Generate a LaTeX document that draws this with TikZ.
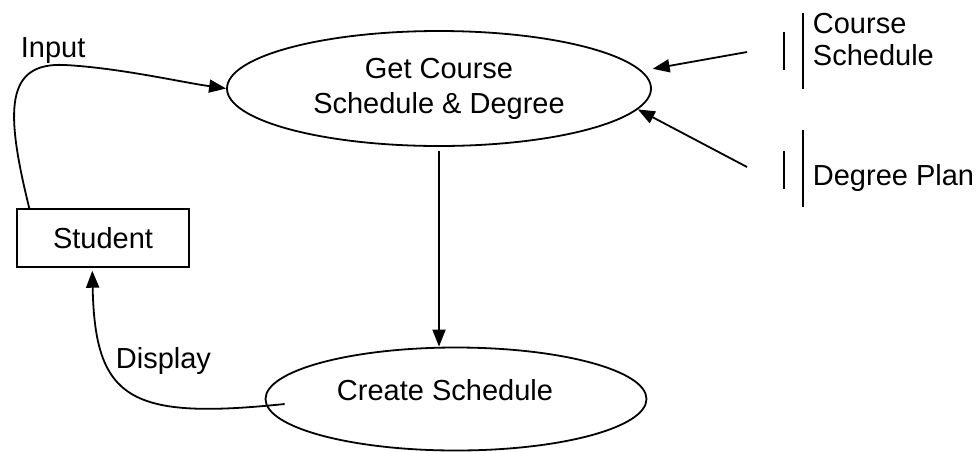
\documentclass[tikz,border=0pt]{standalone}
\usepackage{fontspec}
\setmainfont{Liberation Sans}
\usetikzlibrary{shapes.geometric,arrows.meta,calc}
\begin{document}
\begin{tikzpicture}[x=1pt,y=-1pt, line width=1.8pt,
  flow/.style={-{Triangle[length=17pt,width=13pt]}},
  proc/.style={draw, ellipse, inner sep=0pt},
  txt/.style={font=\fontsize{29}{35}\selectfont, inner sep=0pt},
  storeline/.style={line width=1.8pt},
]
\useasboundingbox (0,0) rectangle (976,451);

% processes
\node[proc, txt, align=center, minimum width=424pt, minimum height=115pt] (get) at (439,88.5) {Get Course\\Schedule \& Degree};
\node[proc, minimum width=381pt, minimum height=103pt] (create) at (456,399) {};
\node[txt] (createtxt) at (445,390) {Create Schedule};

% external entity
\node[draw, txt, line width=1.4pt, minimum width=172pt, minimum height=58pt] (student) at (103,238) {Student};

% data stores
\draw[storeline] (784,32) -- (784,70);
\draw[storeline] (803,13) -- (803,89);
\node[txt, anchor=base west] (cs1) at (812,33) {Course};
\node[txt, anchor=base west] (cs2) at (812,65) {Schedule};
\draw[storeline] (784,151) -- (784,189);
\draw[storeline] (803,130) -- (803,207);
\node[txt, anchor=base west] (dp) at (812,185) {Degree Plan};

\coordinate (csout) at (747,52);
\coordinate (dpout) at (747,167);

% flows
\draw[flow, shorten >=11pt] (csout) -- (get.5);
\draw[flow] (dpout) -- (get.-6.4);
\draw[flow, shorten <=4pt] (get.south) -- (get.south |- create.north);
\draw[flow] ($(student.north west)+(13,0)$) .. controls (5,110) and (5,62) .. (65,65)
  .. controls (120,68) and (180,82) .. (get.west);
\draw[flow] ($(create.west)+(20,5)$) .. controls (130,420) and (95,400) .. ($(student.south west)+(76,3)$);

% labels
\node[txt, anchor=base west] (inlbl) at (20,57) {Input};
\node[txt, anchor=base west] (displbl) at (115,368) {Display};
\end{tikzpicture}
\end{document}
